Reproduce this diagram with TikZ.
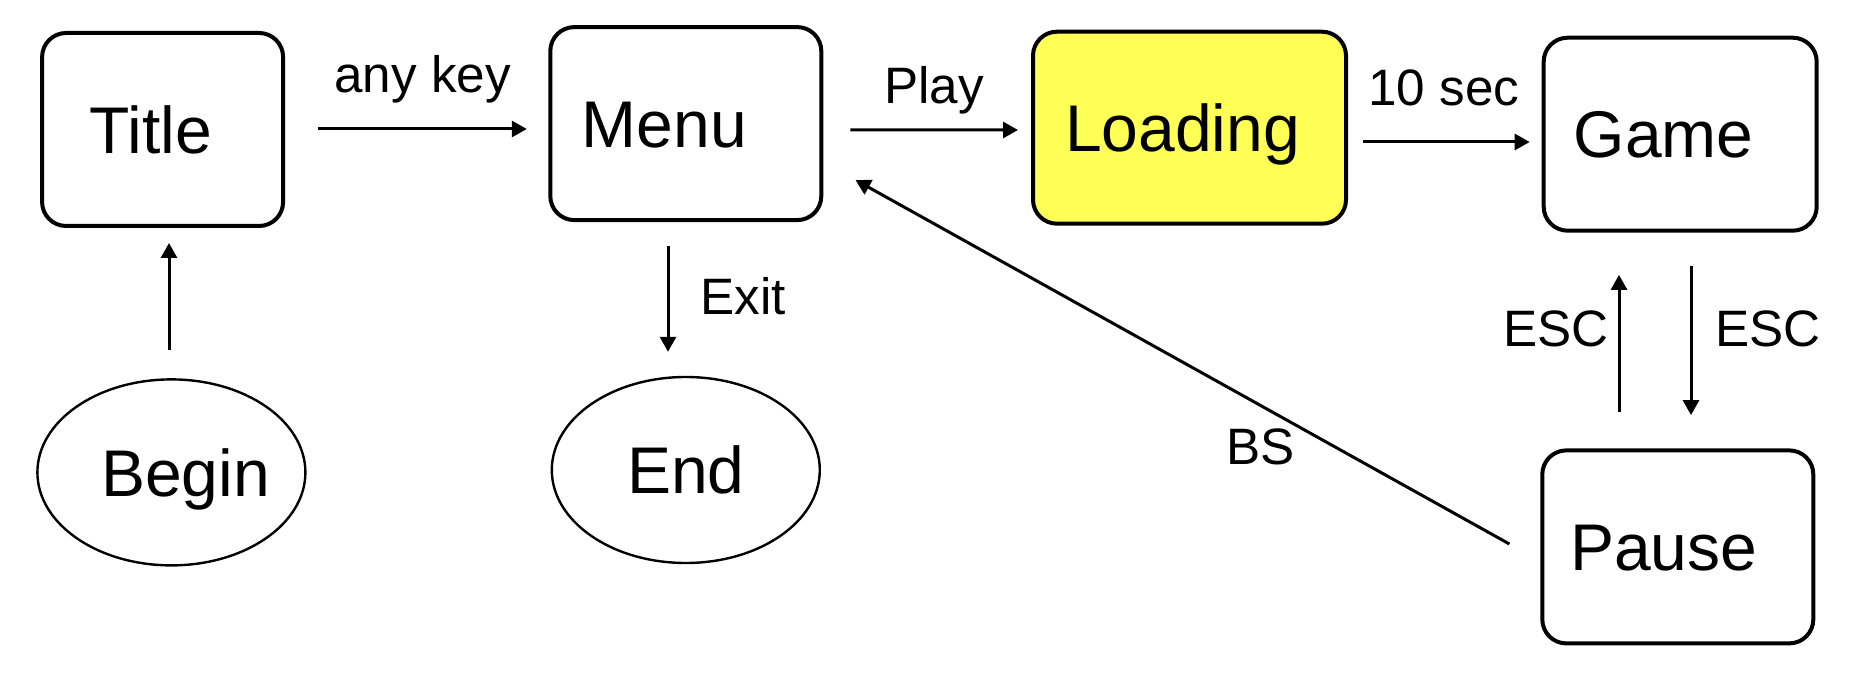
\documentclass[tikz,border=0pt]{standalone}
\usepackage{fontspec}
\setmainfont{Liberation Sans}
\usetikzlibrary{arrows.meta,calc,shapes.geometric}
\definecolor{loadyellow}{RGB}{255,255,85}
\tikzset{
  statebox/.style={draw, line width=2pt, rounded corners=12pt, inner sep=0pt,
    font=\fontsize{33}{36}\selectfont, text height=23.7pt, text depth=0pt, anchor=center},
  termnode/.style={draw, ellipse, line width=1.2pt, inner sep=0pt,
    minimum width=134pt, minimum height=93pt,
    font=\fontsize{33}{36}\selectfont, text height=23.7pt, text depth=0pt},
  arr/.style={line width=1.5pt, -{Triangle[length=7.5pt,width=8pt]}},
  lbl/.style={font=\fontsize{25.6}{28}\selectfont, anchor=base, inner sep=0pt}
}
\begin{document}
\begin{tikzpicture}[x=0.5pt,y=-0.5pt]
\useasboundingbox (0,0) rectangle (1854,699);
% boxes
\node[statebox, minimum width=120.5pt, minimum height=96.5pt] (title) at (162.6,129.5) {Title\kern11.8pt};
\node[statebox, minimum width=135.5pt, minimum height=96.5pt] (menu) at (685.8,123.6) {Menu\kern21.3pt};
\node[statebox, fill=loadyellow, minimum width=156.5pt, minimum height=96pt] (loading) at (1189.5,127.7) {Loading\kern7pt};
\node[statebox, minimum width=136.5pt, minimum height=96.5pt] (game) at (1680.2,134.2) {Game\kern16.5pt};
\node[statebox, minimum width=135.5pt, minimum height=96.5pt] (pause) at (1677.8,546.9) {Pause\kern14.2pt};
\node[termnode] (begin) at (171.4,472.4) {\makebox[0pt]{\kern14.2pt Begin}};
\node[termnode] (end) at (685.8,470) {\makebox[0pt]{End}};
% connectors
\draw[arr] ($(title.east)+(33,-0.5)$) -- ($(menu.west)+(-21.5,5.4)$);
\draw[arr] ($(menu.east)+(27,6.4)$) -- ($(loading.west)+(-13,2.3)$);
\draw[arr] ($(loading.east)+(15,14.3)$) -- ($(game.west)+(-12,7.8)$);
\draw[arr] ($(begin.north)+(-2.4,-28.4)$) -- ($(title.south)+(6.4,15)$);
\draw[arr] ($(menu.south)+(-17.8,24)$) -- ($(end.north)+(-17.8,-24)$);
\draw[arr] ($(pause.north)+(-58.8,-36.3)$) -- ($(game.south)+(-61.2,42.2)$);
\draw[arr] ($(game.south)+(10.8,33.2)$) -- ($(pause.north)+(13.2,-33.3)$);
\draw[arr] ($(pause.west)+(-30.9,-2.9)$) -- ($(menu.east)+(32.2,56.4)$);
% labels
\node[lbl] (lanykey) at (422.7,92.2) {any key};
\node[lbl] (lplay) at (934,104) {Play};
\node[lbl] (lsec) at (1443.7,105.2) {10 sec};
\node[lbl] (lexit) at (743,314.5) {Exit};
\node[lbl] (lescup) at (1556,346.4) {ESC};
\node[lbl] (lescdown) at (1767.7,346.4) {ESC};
\node[lbl] (lbs) at (1260.4,464.7) {BS};
\end{tikzpicture}
\end{document}
